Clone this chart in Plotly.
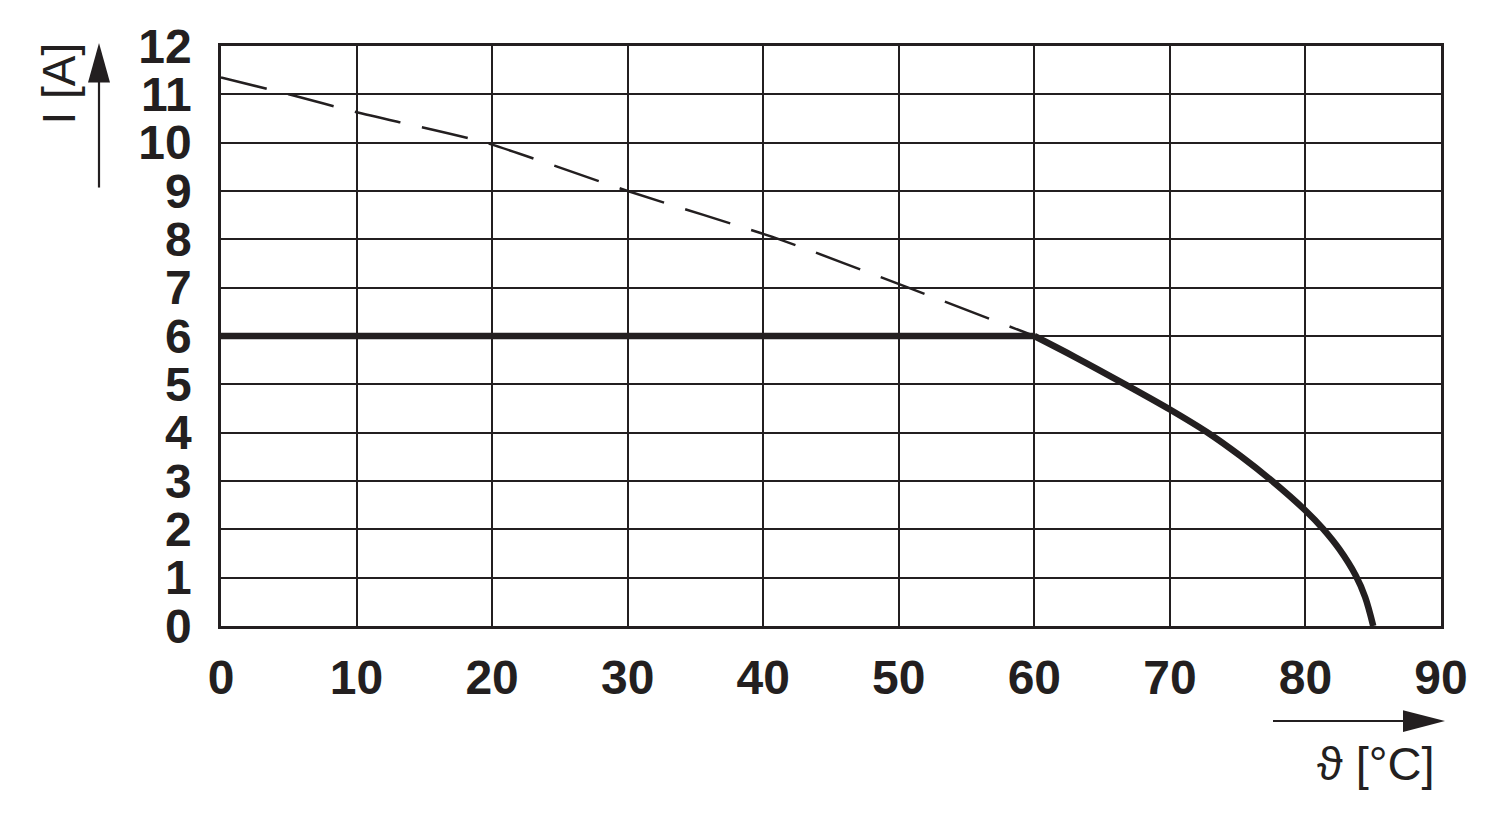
import plotly.graph_objects as go

# Data
dash_x = [0, 5, 10, 19.5, 30, 41.2, 50.7, 60]
dash_y = [11.35, 11.0, 10.63, 10.0, 9.0, 8.0, 7.0, 6.0]
flat_x = [0, 60]
flat_y = [6, 6]
curve_x = [60, 63, 66.7, 70, 72.8, 75.2, 77.5, 80, 81.3, 82.5, 83.7, 84.4, 85]
curve_y = [6, 5.565, 5, 4.48, 4, 3.52, 3.01, 2.39, 2.01, 1.59, 1.05, 0.6, 0]
x_ticks = [0, 10, 20, 30, 40, 50, 60, 70, 80, 90]
y_ticks = list(range(0, 13))

INK = "#231f20"
W, H = 1500, 821
OFF = 8  # page body margin
L, R, T, B = 221, 1441, 40, 626  # plot area in page pixels

def px(x):
    return (x - L) / (R - L)

def py(y):
    return (B - y) / (B - T)

fig = go.Figure()
fig.add_trace(go.Scatter(x=dash_x, y=dash_y, mode="lines", line=dict(color=INK, width=2.5, dash="47px,22px", shape="spline", smoothing=0.6), hoverinfo="skip"))
fig.add_trace(go.Scatter(x=flat_x, y=flat_y, mode="lines", line=dict(color=INK, width=6.5), hoverinfo="skip"))
fig.add_trace(go.Scatter(x=curve_x, y=curve_y, mode="lines", line=dict(color=INK, width=6.5, shape="spline", smoothing=1.0), hoverinfo="skip"))

tickfont = dict(family="Liberation Sans", size=48, color=INK, weight="bold")
fig.update_xaxes(range=[0, 90], tickvals=x_ticks, ticktext=[str(v) for v in x_ticks], showgrid=True, gridcolor=INK, gridwidth=2.2,
                 showline=True, linecolor=INK, linewidth=2.5, mirror=True, zeroline=False, ticks="", tickfont=tickfont, ticklabelstandoff=8)
fig.update_yaxes(range=[0, 12], tickvals=y_ticks, ticktext=[str(v) for v in y_ticks], showgrid=True, gridcolor=INK, gridwidth=2.2,
                 showline=True, linecolor=INK, linewidth=2.5, mirror=True, zeroline=False, ticks="", tickfont=tickfont, ticklabelstandoff=17)

shapes = [
    dict(type="line", xref="paper", yref="paper", x0=px(99), x1=px(99), y0=py(183), y1=py(70), line=dict(color=INK, width=2.2)),
    dict(type="path", xref="paper", yref="paper", fillcolor=INK, line=dict(color=INK, width=0),
         path=f"M {px(99)} {py(37)} L {px(88)} {py(77)} L {px(110)} {py(77)} Z"),
    dict(type="line", xref="paper", yref="paper", x0=px(1273), x1=px(1410), y0=py(722), y1=py(722), line=dict(color=INK, width=2.2)),
    dict(type="path", xref="paper", yref="paper", fillcolor=INK, line=dict(color=INK, width=0),
         path=f"M {px(1445)} {py(722)} L {px(1403)} {py(711)} L {px(1403)} {py(733)} Z"),
]

annotations = [
    dict(text="I [A]", xref="paper", yref="paper", x=px(59), y=py(78), textangle=-90, showarrow=False,
         font=dict(family="Liberation Sans", size=46, color=INK), xanchor="center", yanchor="middle"),
    dict(text="ϑ [°C]", xref="paper", yref="paper", x=px(1376), y=py(765), showarrow=False,
         font=dict(family="Liberation Sans", size=47, color=INK), xanchor="center", yanchor="middle"),
]

fig.update_layout(width=W, height=H,
                  margin=dict(l=L - OFF, r=W + OFF - R, t=T - OFF, b=H + OFF - B),
                  plot_bgcolor="white", paper_bgcolor="white",
                  showlegend=False, shapes=shapes, annotations=annotations)

fig.write_html("out.html")
